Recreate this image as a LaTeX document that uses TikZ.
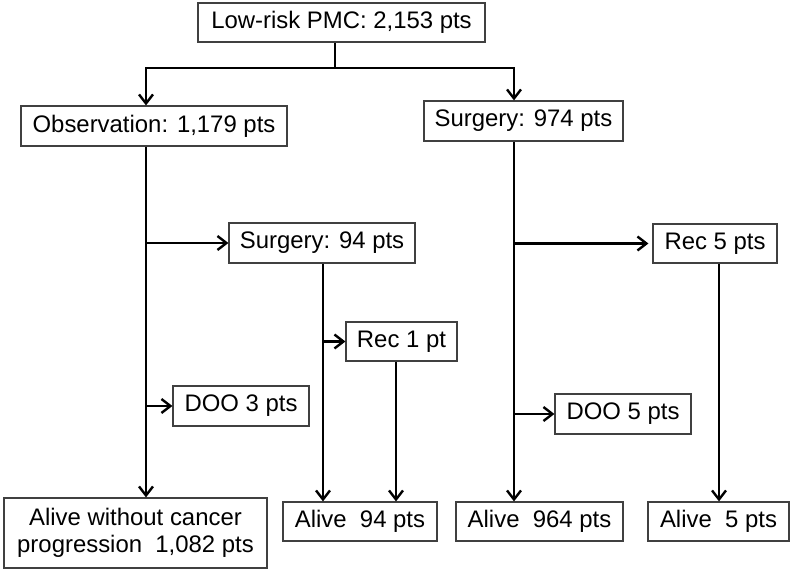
\documentclass[tikz,border=0pt]{standalone}
\usepackage{fontspec}
\setmainfont{Liberation Sans}
\usetikzlibrary{arrows.meta, positioning}

\begin{document}
\begin{tikzpicture}[x=1bp, y=-1bp, line join=miter,
    box/.style={draw=black!75, line width=1.2bp, fill=white, inner sep=0pt,
      align=center, font=\fontsize{24}{27}\selectfont},
    flow/.style={line width=2.4bp},
    arr/.style={flow, -{Straight Barb[length=9bp, width=14bp]}}]
  \useasboundingbox (0,0) rectangle (792,571);
  % boxes
  \node[box, minimum width=287bp, minimum height=39bp] (pmc) at (341.5,22.5) {Low-risk PMC: 2,153 pts};
  \node[box, minimum width=266bp, minimum height=40bp] (obs) at (154,126) {Observation: 1,179 pts};
  \node[box, minimum width=199bp, minimum height=40bp] (surg) at (523.5,121) {Surgery: 974 pts};
  \node[box, minimum width=186bp, minimum height=40bp] (surgb) at (322,243) {Surgery: 94 pts};
  \node[box, minimum width=111bp, minimum height=39bp] (recb) at (401.5,341.5) {Rec 1 pt};
  \node[box, minimum width=136bp, minimum height=40bp] (doob) at (241,406) {DOO 3 pts};
  \node[box, minimum width=124bp, minimum height=39bp] (recs) at (715,243.5) {Rec 5 pts};
  \node[box, minimum width=136bp, minimum height=40bp] (doos) at (623,414) {DOO 5 pts};
  \node[box, minimum width=263bp, minimum height=70bp] (aliveobs) at (135.5,533) {Alive without cancer\\progression~ 1,082 pts};
  \node[box, minimum width=154bp, minimum height=39bp] (alivesb) at (360,521.5) {Alive~ 94 pts};
  \node[box, minimum width=167bp, minimum height=39bp] (alivesurg) at (539.5,521.5) {Alive~ 964 pts};
  \node[box, minimum width=141bp, minimum height=39bp] (alivers) at (718.5,521.5) {Alive~ 5 pts};
  % vertical lines
  \coordinate (bus) at (335,68);
  \coordinate (obsx) at (146,0);
  \coordinate (surgx) at (514,0);
  \coordinate (surgbx) at (323,0);
  \coordinate (recbx) at (396,0);
  \coordinate (recsx) at (719,0);
  % first split
  \draw[flow] (pmc.south -| bus) -- (bus);
  \draw[arr] (bus) -| (obsx |- obs.north);
  \draw[arr] (bus) -| (surgx |- surg.north);
  % observation arm
  \draw[arr] (obsx |- obs.south) -- (obsx |- aliveobs.north);
  \draw[arr] (obsx |- surgb.west) -- (surgb.west);
  \draw[arr] (obsx |- doob.west) -- (doob.west);
  \draw[arr] (surgbx |- surgb.south) -- (surgbx |- alivesb.north);
  \draw[arr] (surgbx |- recb.west) -- (recb.west);
  \draw[arr] (recbx |- recb.south) -- (recbx |- alivesb.north);
  % surgery arm
  \draw[arr] (surgx |- surg.south) -- (surgx |- alivesurg.north);
  \draw[arr] (surgx |- recs.west) -- ([xshift=-4bp]recs.west);
  \draw[arr] (surgx |- doos.west) -- (doos.west);
  \draw[arr] (recsx |- recs.south) -- (recsx |- alivers.north);
\end{tikzpicture}
\end{document}
